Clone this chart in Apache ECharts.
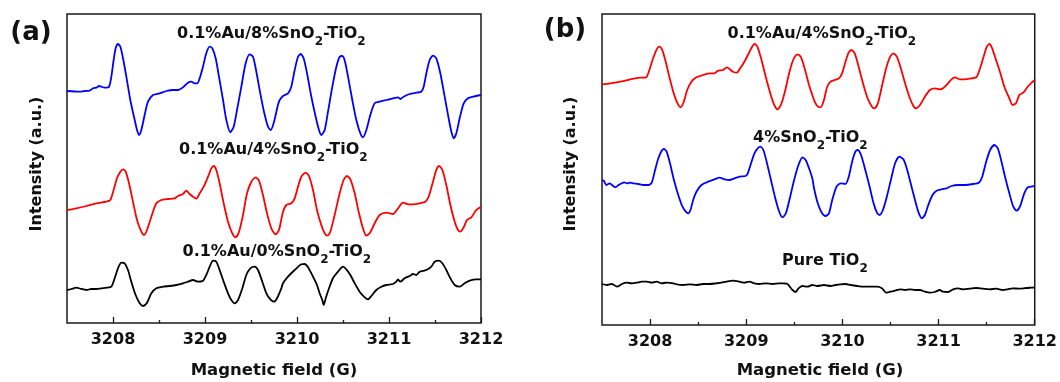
<!DOCTYPE html>
<html><head><meta charset="utf-8">
<script src="https://cdn.jsdelivr.net/npm/echarts@6/dist/echarts.min.js"></script>
<style>html,body{margin:0;padding:0;background:#fff}#c{width:1060px;height:382px}</style>
</head><body><div id="c"></div>
<script>
// ---- axis values ----
const fieldMin = 3207.5, fieldMax = 3212;
const tickValues = [3208, 3209, 3210, 3211, 3212];
const minorTickValues = [3208.5, 3209.5, 3210.5, 3211.5];
const axisTitleX = 'Magnetic field (G)';
const axisTitleY = 'Intensity (a.u.)';
const panelLetters = ['(a)', '(b)'];
const labelsA = ['0.1%Au/8%SnO₂-TiO₂', '0.1%Au/4%SnO₂-TiO₂', '0.1%Au/0%SnO₂-TiO₂'];
const labelsB = ['0.1%Au/4%SnO₂-TiO₂', '4%SnO₂-TiO₂', 'Pure TiO₂'];

// ---- panel (a) spectra: [field (G), intensity (a.u., offset)] ----
const aAu8 = [[3207.5,232],[3207.638,231.3],[3207.692,232],[3207.746,232.3],[3207.783,234.7],[3207.819,235.3],[3207.848,237],[3207.873,236.3],[3207.909,235.3],[3207.957,236.3],[3207.982,246.3],[3208.007,263],[3208.029,274.7],[3208.054,279],[3208.080,276.3],[3208.109,264.7],[3208.145,246.3],[3208.188,223],[3208.236,203],[3208.261,193],[3208.283,188],[3208.308,193],[3208.344,208],[3208.380,221.3],[3208.435,228],[3208.507,229.7],[3208.580,232],[3208.652,233],[3208.707,233],[3208.761,235.7],[3208.815,240.3],[3208.851,241.3],[3208.888,239.7],[3208.917,239.7],[3208.942,244.7],[3208.978,256.3],[3209.014,269.7],[3209.051,276.3],[3209.080,274.7],[3209.116,264.7],[3209.152,246.3],[3209.196,223],[3209.232,203],[3209.275,190.7],[3209.312,196.3],[3209.348,213],[3209.395,236.3],[3209.442,259.7],[3209.486,268.7],[3209.522,266.3],[3209.558,251.3],[3209.601,229.7],[3209.645,209.7],[3209.685,196.3],[3209.714,193],[3209.746,199.7],[3209.793,218],[3209.812,223],[3209.848,227],[3209.902,229.7],[3209.938,236.3],[3209.975,253],[3210.011,266.3],[3210.040,269],[3210.072,264.7],[3210.109,249.7],[3210.156,226.3],[3210.203,206.3],[3210.239,193],[3210.264,188],[3210.301,193],[3210.337,211.3],[3210.384,236.3],[3210.428,256.3],[3210.464,266.3],[3210.493,267],[3210.522,261.3],[3210.558,244.7],[3210.601,223],[3210.645,203],[3210.688,189.7],[3210.717,185.7],[3210.754,193],[3210.797,208],[3210.844,219.7],[3210.899,221.3],[3210.971,223],[3211.043,224.7],[3211.098,225.7],[3211.123,224],[3211.159,226.3],[3211.225,229],[3211.297,230.3],[3211.351,231.3],[3211.377,236.3],[3211.406,249.7],[3211.442,263],[3211.478,267.3],[3211.514,264.7],[3211.558,249.7],[3211.605,226.3],[3211.645,206.3],[3211.678,191.3],[3211.703,184.7],[3211.732,189.7],[3211.768,204.7],[3211.812,219.7],[3211.859,224.7],[3211.913,226.3],[3212,228]];
const aAu4 = [[3207.5,113],[3207.601,114.7],[3207.710,117],[3207.819,119.7],[3207.928,121.3],[3207.971,123],[3208.007,133],[3208.043,144.7],[3208.080,151.3],[3208.109,153.7],[3208.138,151.3],[3208.174,139.7],[3208.217,121.3],[3208.261,103],[3208.308,91.3],[3208.337,88],[3208.370,93],[3208.417,106.3],[3208.471,119.7],[3208.525,123],[3208.598,124],[3208.670,124.7],[3208.707,127],[3208.761,129],[3208.797,132.3],[3208.833,129],[3208.870,126.3],[3208.906,124.3],[3208.942,129.7],[3208.986,136.3],[3209.033,146.3],[3209.069,154.7],[3209.094,157],[3209.123,153],[3209.159,139.7],[3209.203,119.7],[3209.250,101.3],[3209.297,89.7],[3209.333,85.7],[3209.370,91.3],[3209.413,108],[3209.457,129.7],[3209.504,141.3],[3209.551,145.7],[3209.587,142.3],[3209.630,128],[3209.674,109.7],[3209.721,94.7],[3209.768,88.7],[3209.804,93],[3209.848,111.3],[3209.884,118],[3209.938,119.7],[3209.975,124.7],[3210.011,136.3],[3210.047,146.3],[3210.094,150.3],[3210.130,147],[3210.174,133],[3210.217,113],[3210.264,98],[3210.301,89.7],[3210.330,87.3],[3210.362,91.3],[3210.409,108],[3210.464,129.7],[3210.507,143],[3210.543,147],[3210.580,143.7],[3210.627,129.7],[3210.674,109.7],[3210.717,94.7],[3210.754,87.3],[3210.790,89.7],[3210.844,99.7],[3210.899,108],[3210.971,110.3],[3211.043,109],[3211.098,114.7],[3211.152,120.3],[3211.207,118.7],[3211.261,118.7],[3211.333,119.7],[3211.395,121.3],[3211.431,126.3],[3211.478,141.3],[3211.514,153],[3211.543,157],[3211.580,153],[3211.623,138],[3211.667,118],[3211.714,101.3],[3211.750,93],[3211.775,91.3],[3211.812,95.7],[3211.848,103],[3211.895,105.7],[3211.949,113],[3212,116.3]];
const aAu0 = [[3207.5,33],[3207.547,34],[3207.601,35.3],[3207.656,34],[3207.710,33],[3207.764,34],[3207.819,34],[3207.873,34.7],[3207.928,35.3],[3207.982,36.3],[3208.018,44.7],[3208.054,54.7],[3208.091,60.3],[3208.127,59.7],[3208.163,53],[3208.199,41.3],[3208.246,28],[3208.290,19.7],[3208.326,17],[3208.370,20.3],[3208.417,29.7],[3208.471,34.7],[3208.543,36.3],[3208.616,37],[3208.688,38],[3208.761,39.7],[3208.815,41.3],[3208.870,43],[3208.924,41.3],[3208.978,42.3],[3209.014,48],[3209.051,56.3],[3209.087,62.3],[3209.123,61.3],[3209.159,53],[3209.203,41.3],[3209.250,29.7],[3209.286,23],[3209.322,19.7],[3209.359,23],[3209.406,34.7],[3209.449,48],[3209.493,54.7],[3209.540,56.3],[3209.576,53],[3209.623,41.3],[3209.667,29.7],[3209.710,23.7],[3209.750,21.3],[3209.783,24.7],[3209.830,34.7],[3209.848,39.7],[3209.902,46.3],[3209.975,53],[3210.047,58.7],[3210.083,59],[3210.120,55.7],[3210.174,46.3],[3210.217,38],[3210.246,29.7],[3210.275,23],[3210.290,18],[3210.312,24.7],[3210.348,34.7],[3210.391,44.7],[3210.446,51.3],[3210.500,56.3],[3210.536,53.7],[3210.580,48],[3210.627,39.7],[3210.681,31.3],[3210.736,25.7],[3210.772,23.7],[3210.808,27],[3210.862,33],[3210.917,36.3],[3210.971,38],[3211.043,39],[3211.080,41.3],[3211.098,43.7],[3211.123,41.3],[3211.170,44.7],[3211.225,47],[3211.261,49],[3211.297,48],[3211.333,51.3],[3211.406,53],[3211.460,56.3],[3211.496,61.3],[3211.543,62.3],[3211.580,59.7],[3211.623,53],[3211.667,44.7],[3211.714,38],[3211.768,36.3],[3211.822,39.7],[3211.877,42.3],[3211.949,43.7],[3212,43.7]];

// ---- panel (b) spectra ----
const bAu4 = [[3207.5,240.7],[3207.587,241.7],[3207.690,243.3],[3207.793,245.7],[3207.897,247.3],[3207.959,247.7],[3207.993,255],[3208.028,265.7],[3208.069,275.7],[3208.096,278.3],[3208.124,275.7],[3208.158,265],[3208.200,248.3],[3208.241,233.3],[3208.282,222.3],[3208.317,217.7],[3208.351,223.3],[3208.386,235],[3208.430,243.3],[3208.482,247.7],[3208.551,250],[3208.620,251.7],[3208.671,251.7],[3208.706,254.3],[3208.758,255],[3208.799,257.7],[3208.826,256],[3208.861,253.3],[3208.902,252.3],[3208.937,256.7],[3208.981,263.3],[3209.026,271.7],[3209.061,278.3],[3209.088,281],[3209.116,278.3],[3209.154,266.7],[3209.198,250],[3209.240,235],[3209.284,221.7],[3209.326,215.7],[3209.360,220],[3209.402,233.3],[3209.446,251.7],[3209.488,265],[3209.532,270.7],[3209.567,268.3],[3209.612,255],[3209.653,240],[3209.687,230],[3209.705,225],[3209.739,219],[3209.774,217.7],[3209.808,225],[3209.842,238.3],[3209.877,243.3],[3209.918,245],[3209.963,246.7],[3209.997,251.7],[3210.032,263.3],[3210.066,272.7],[3210.094,275],[3210.128,271.7],[3210.169,258.3],[3210.214,241.7],[3210.262,226.7],[3210.307,218.3],[3210.335,216.7],[3210.369,221.7],[3210.410,238.3],[3210.455,256.7],[3210.497,268.3],[3210.531,271.7],[3210.566,268.3],[3210.607,256.7],[3210.652,241.7],[3210.696,228.3],[3210.738,219],[3210.765,216.7],[3210.807,220],[3210.858,228.3],[3210.910,235],[3210.961,236.7],[3211.013,235.7],[3211.047,236.7],[3211.099,241.7],[3211.134,245.7],[3211.168,247.7],[3211.220,245.7],[3211.271,245.7],[3211.323,246.3],[3211.392,247.7],[3211.426,255],[3211.468,268.3],[3211.502,278.3],[3211.530,281],[3211.557,276.7],[3211.598,265],[3211.643,251.7],[3211.684,238.3],[3211.736,226.7],[3211.770,220],[3211.805,221.7],[3211.840,230],[3211.881,232.3],[3211.926,238.3],[3211.960,241.7],[3212,245]];
const bSn4 = [[3207.5,145],[3207.518,144.3],[3207.545,140],[3207.580,141.7],[3207.604,140],[3207.638,137.7],[3207.673,140],[3207.707,141.7],[3207.731,142.7],[3207.759,141.7],[3207.793,142.3],[3207.828,141.7],[3207.879,141],[3207.931,140],[3207.983,140],[3208.017,142.3],[3208.052,155],[3208.086,166.7],[3208.121,174.3],[3208.145,176],[3208.172,173.3],[3208.207,161.7],[3208.248,145],[3208.293,130],[3208.337,118.3],[3208.372,113.3],[3208.396,111.7],[3208.420,115],[3208.448,125],[3208.482,133.3],[3208.534,140],[3208.603,143.3],[3208.671,145.7],[3208.723,147.3],[3208.775,145.7],[3208.826,145],[3208.878,146.7],[3208.930,148.3],[3208.992,149],[3209.016,151.7],[3209.050,161.7],[3209.085,171.7],[3209.119,176.7],[3209.147,178.3],[3209.178,175],[3209.212,163.3],[3209.257,145],[3209.302,126.7],[3209.343,113.3],[3209.377,107.7],[3209.412,111.7],[3209.453,126.7],[3209.498,145],[3209.543,160],[3209.584,167.7],[3209.618,165],[3209.653,156.7],[3209.687,146.7],[3209.705,136.7],[3209.739,123.3],[3209.780,113.3],[3209.825,109],[3209.860,111.7],[3209.894,125],[3209.939,138.3],[3209.980,141.7],[3210.032,141],[3210.066,148.3],[3210.101,163.3],[3210.135,173.3],[3210.159,175],[3210.194,170],[3210.238,155],[3210.283,138.3],[3210.324,121.7],[3210.359,112.3],[3210.386,110],[3210.421,115],[3210.462,128.3],[3210.504,145],[3210.548,161.7],[3210.593,168.3],[3210.634,165.7],[3210.669,156.7],[3210.710,141.7],[3210.755,125],[3210.789,113.3],[3210.824,106.7],[3210.858,110],[3210.893,120],[3210.937,130],[3210.979,134.3],[3211.030,135.7],[3211.082,136.7],[3211.134,139],[3211.203,140],[3211.271,140],[3211.357,141],[3211.419,142.3],[3211.454,148.3],[3211.495,163.3],[3211.536,175],[3211.581,180],[3211.616,176.7],[3211.650,165],[3211.691,148.3],[3211.736,131.7],[3211.777,118.3],[3211.812,114.3],[3211.846,118.3],[3211.891,131.7],[3211.926,137.7],[3211.960,138.3],[3212,139]];
const bPure = [[3207.5,41],[3207.552,40],[3207.604,41],[3207.656,38.3],[3207.707,41],[3207.759,42.3],[3207.811,41.7],[3207.862,42.3],[3207.914,43.3],[3207.966,43.3],[3208.017,42.3],[3208.069,43.3],[3208.121,41.7],[3208.172,42.3],[3208.241,41.7],[3208.293,40.3],[3208.344,40],[3208.413,40.7],[3208.482,40],[3208.551,41],[3208.620,41],[3208.689,41.7],[3208.740,42.3],[3208.792,43.3],[3208.861,44.3],[3208.930,43.3],[3208.981,42.3],[3209.033,43.3],[3209.085,41.7],[3209.136,41],[3209.205,41.7],[3209.274,41],[3209.343,41.7],[3209.395,41.7],[3209.429,41],[3209.453,38.3],[3209.481,35],[3209.515,33],[3209.543,36.7],[3209.584,39],[3209.636,38.3],[3209.687,40],[3209.739,39],[3209.808,40],[3209.877,39],[3209.928,40],[3209.980,40.7],[3210.032,41],[3210.084,40],[3210.152,39],[3210.221,38.3],[3210.290,38.3],[3210.359,38.3],[3210.411,36.7],[3210.455,32.3],[3210.497,33.3],[3210.548,34.3],[3210.600,35.7],[3210.652,35],[3210.703,35.7],[3210.755,35],[3210.807,35],[3210.858,33.3],[3210.910,32.3],[3210.961,33],[3211.013,35],[3211.047,33.3],[3211.099,33],[3211.151,35.7],[3211.203,36.7],[3211.254,35.7],[3211.323,36.3],[3211.392,37],[3211.461,36.3],[3211.530,35.7],[3211.599,36.3],[3211.667,35],[3211.719,35.7],[3211.770,36.7],[3211.840,36.3],[3211.909,37],[3211.960,37.3],[3212,37.5]];

const FONT = '"DejaVu Sans", sans-serif';
const AX = '#1a1a1a';

function richText(s) {
  return s.split(/(₂)/).filter(t => t).map(t => t === '₂' ? '{s|2}' : '{m|' + t + '}').join('');
}
const richStyle = {
  m: { fontFamily: FONT, fontWeight: 'bold', fontSize: 16, lineHeight: 28, fill: '#111' },
  s: { fontFamily: FONT, fontWeight: 'bold', fontSize: 12, lineHeight: 12, verticalAlign: 'bottom', fill: '#111' }
};
function curveLabel(text, x, y) {
  return { type: 'text', x: x, y: y, silent: true,
    style: { text: richText(text), rich: richStyle, align: 'left', verticalAlign: 'middle', fill: '#111' } };
}
function plainText(text, x, y, size, rot) {
  return { type: 'text', x: x, y: y, rotation: rot || 0, silent: true,
    style: { text: text, fontFamily: FONT, fontWeight: 'bold', fontSize: size, fill: '#111', align: 'center', verticalAlign: 'middle' } };
}

function majorAxis(g) {
  return { gridIndex: g, type: 'value', min: fieldMin, max: fieldMax, position: 'bottom',
    axisLine: { show: false }, splitLine: { show: false },
    axisTick: { show: true, inside: true, length: 6, customValues: tickValues, lineStyle: { color: AX, width: 1.3 } },
    axisLabel: { show: true, customValues: tickValues, formatter: v => String(v), margin: 9,
      fontFamily: FONT, fontWeight: 'bold', fontSize: 16, color: '#111' } };
}
function minorAxis(g) {
  return { gridIndex: g, type: 'value', min: fieldMin, max: fieldMax, position: 'bottom',
    axisLine: { show: false }, splitLine: { show: false },
    axisTick: { show: true, inside: true, length: 3, customValues: minorTickValues, lineStyle: { color: AX, width: 1.3 } },
    axisLabel: { show: false } };
}
function spectrum(data, color, xi, yi) {
  return { type: 'line', data: data, xAxisIndex: xi, yAxisIndex: yi, showSymbol: false, symbol: 'none',
    smooth: 0.25, lineStyle: { color: color, width: 1.8 }, silent: true, animation: false };
}

const chart = echarts.init(document.getElementById('c'), null, { renderer: 'canvas' });
chart.setOption({
  backgroundColor: '#fff',
  animation: false,
  grid: [
    { left: 67, top: 14, width: 414, height: 309, show: true, borderColor: AX, borderWidth: 1.5, backgroundColor: 'transparent' },
    { left: 602, top: 14, width: 437, height: 311, show: true, borderColor: AX, borderWidth: 1.5, backgroundColor: 'transparent' }
  ],
  xAxis: [majorAxis(0), minorAxis(0), majorAxis(1), minorAxis(1)],
  yAxis: [
    { gridIndex: 0, type: 'value', min: 0, max: 309, show: false },
    { gridIndex: 1, type: 'value', min: 0, max: 311, show: false }
  ],
  series: [
    spectrum(aAu8, '#0000ff', 0, 0),
    spectrum(aAu4, '#ff0000', 0, 0),
    spectrum(aAu0, '#000000', 0, 0),
    spectrum(bAu4, '#ff0000', 2, 1),
    spectrum(bSn4, '#0000ff', 2, 1),
    spectrum(bPure, '#000000', 2, 1)
  ],
  graphic: [
    plainText(panelLetters[0], 31, 33, 26),
    plainText(panelLetters[1], 565, 30, 26),
    plainText(axisTitleY, 37, 164, 16, Math.PI / 2),
    plainText(axisTitleY, 571, 164, 16, Math.PI / 2),
    plainText(axisTitleX, 274, 371, 16.5),
    plainText(axisTitleX, 820, 371, 16.5),
    curveLabel(labelsA[0], 177, 34),
    curveLabel(labelsA[1], 179, 150),
    curveLabel(labelsA[2], 182.5, 252),
    curveLabel(labelsB[0], 727.5, 34),
    curveLabel(labelsB[1], 753, 137.5),
    curveLabel(labelsB[2], 782, 261)
  ]
});
</script></body></html>
